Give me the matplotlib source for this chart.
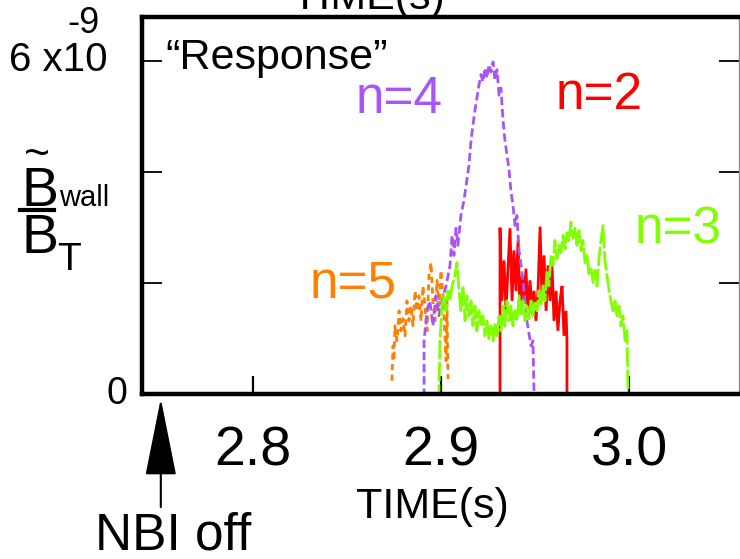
import matplotlib
matplotlib.use("Agg")
import matplotlib.pyplot as plt
from matplotlib.lines import Line2D
from matplotlib import transforms

# ---- measured wall-field response, amplitude in units of 1e-9 (B_wall / B_T) ----
t_n5 = [2.8739, 2.8745, 2.8750, 2.8755, 2.8766, 2.8777, 2.8787, 2.8798,
        2.8809, 2.8819, 2.8830, 2.8840, 2.8851, 2.8862, 2.8872, 2.8883, 2.8894, 2.8904,
        2.8915, 2.8926, 2.8936, 2.8947, 2.8957, 2.8968, 2.8979, 2.8989, 2.9000, 2.9011,
        2.9021, 2.9027, 2.9032, 2.9037]
b_n5 = [0.24, 0.87, 0.60, 1.23, 0.96, 1.50, 1.14, 1.36,
        1.05, 1.68, 1.32, 1.59, 1.23, 1.86, 1.50, 1.77, 1.32, 1.95,
        1.59, 1.14, 2.14, 2.37, 1.68, 1.32, 2.05, 1.59, 2.23, 1.77,
        1.05, 0.60, 1.68, 0.27]

t_n4 = [2.740, 2.8910, 2.8910, 2.8926, 2.8941, 2.8957, 2.8973, 2.8989, 2.9005, 2.9027,
        2.9048, 2.9059, 2.9069, 2.9080, 2.9090, 2.9106, 2.9122, 2.9138, 2.9149, 2.9160,
        2.9170, 2.9181, 2.9191, 2.9202, 2.9213, 2.9223, 2.9234, 2.9245, 2.9255, 2.9266,
        2.9277, 2.9287, 2.9298, 2.9309, 2.9319, 2.9330, 2.9340, 2.9351, 2.9362, 2.9372,
        2.9383, 2.9394, 2.9404, 2.9415, 2.9426, 2.9436, 2.9447, 2.9457, 2.9468, 2.9479,
        2.9489, 2.9495, 3.060]
b_n4 = [0, 0, 0.96, 1.50, 1.68, 1.23, 1.77, 1.41, 1.68, 1.95,
        2.32, 2.86, 2.50, 2.99, 2.68, 3.22, 3.49, 3.86, 4.13, 4.58,
        4.85, 5.12, 5.34, 5.57, 5.76, 5.63, 5.88, 5.70, 5.94, 5.81,
        5.99, 5.67, 5.85, 5.39, 5.52, 4.94, 4.58, 4.31, 4.04, 3.67,
        3.40, 3.04, 3.22, 2.59, 2.32, 2.05, 1.68, 1.32, 1.09, 0.87,
        0.96, 0, 0]

t_n3 = [2.740, 2.8989, 2.8995, 2.9005, 2.9016, 2.9027, 2.9037, 2.9048, 2.9059, 2.9074,
        2.9085, 2.9096, 2.9106, 2.9117, 2.9128, 2.9138, 2.9149, 2.9160, 2.9170, 2.9181,
        2.9191, 2.9202, 2.9213, 2.9223, 2.9234, 2.9245, 2.9255, 2.9266, 2.9277, 2.9287,
        2.9298, 2.9309, 2.9319, 2.9330, 2.9340, 2.9351, 2.9362, 2.9372, 2.9383, 2.9394,
        2.9404, 2.9415, 2.9426, 2.9436, 2.9447, 2.9457, 2.9468, 2.9479, 2.9489, 2.9500,
        2.9511, 2.9521, 2.9532, 2.9543, 2.9553, 2.9564, 2.9574, 2.9585, 2.9596, 2.9606,
        2.9617, 2.9628, 2.9638, 2.9649, 2.9660, 2.9670, 2.9681, 2.9691, 2.9702, 2.9713,
        2.9723, 2.9734, 2.9745, 2.9755, 2.9766, 2.9777, 2.9787, 2.9798, 2.9809, 2.9819,
        2.9830, 2.9840, 2.9851, 2.9862, 2.9872, 2.9883, 2.9894, 2.9904, 2.9915, 2.9926,
        2.9936, 2.9947, 2.9957, 2.9968, 2.9979, 2.9989, 2.9995, 3.060]
b_n3 = [0, 0, 0.96, 1.59, 1.77, 1.50, 1.86, 1.68, 1.95, 2.14,
        2.37, 1.86, 1.50, 1.95, 1.32, 1.77, 1.41, 1.68, 1.23, 1.59,
        1.14, 1.50, 1.23, 1.41, 1.05, 1.32, 1.00, 1.23, 0.96, 1.29,
        1.05, 1.41, 1.14, 1.59, 1.23, 1.68, 1.32, 1.59, 1.23, 1.50,
        1.32, 1.77, 1.41, 1.68, 1.32, 1.59, 1.36, 1.68, 1.41, 1.68,
        1.50, 1.86, 1.59, 1.95, 1.68, 2.23, 1.95, 2.50, 2.32, 2.77,
        2.44, 2.68, 2.55, 2.86, 2.62, 2.91, 2.77, 3.10, 2.81, 2.99,
        2.68, 2.95, 2.59, 2.77, 2.37, 2.50, 2.14, 2.26, 2.01, 2.23,
        1.95, 2.44, 2.77, 3.04, 2.41, 2.14, 1.86, 1.68, 1.50, 1.68,
        1.41, 1.59, 1.23, 1.41, 0.96, 1.14, 0, 0]

t_n2 = [2.740, 2.9314, 2.9314, 2.9324, 2.9335, 2.9346, 2.9356, 2.9367, 2.9378, 2.9388,
        2.9399, 2.9410, 2.9420, 2.9431, 2.9441, 2.9452, 2.9463, 2.9473, 2.9484, 2.9495,
        2.9505, 2.9516, 2.9527, 2.9537, 2.9548, 2.9559, 2.9569, 2.9580, 2.9590, 2.9601,
        2.9612, 2.9622, 2.9633, 2.9644, 2.9654, 2.9665, 2.9670, 2.9670, 3.060]
b_n2 = [0, 0, 3.00, 1.68, 2.41, 1.50, 2.23, 2.99, 1.68, 2.59,
        1.86, 2.77, 1.50, 2.14, 1.68, 2.26, 1.41, 2.05, 1.59, 1.86,
        1.32, 1.86, 3.02, 1.77, 2.50, 1.50, 2.32, 1.68, 2.37, 1.32,
        1.86, 1.14, 1.68, 1.95, 1.05, 1.50, 0.96, 0, 0]

x_ticks = [2.8, 2.9, 3.0]
x_tick_labels = ["2.8", "2.9", "3.0"]
y_ticks = [0, 2, 4, 6]

modes = ["n=2", "n=5", "n=4", "n=3"]
colors = {"n=2": "#ff0000", "n=5": "#ff8000", "n=4": "#a855f7", "n=3": "#80ff00"}

FONT = ["Liberation Sans", "DejaVu Sans"]

fig = plt.figure(figsize=(7.4, 5.59), dpi=100)
W, H = 740.0, 559.0
ax = fig.add_axes([142 / W, 1 - 394 / H, (739 - 142) / W, (394 - 17) / H])
ax.set_xlim(2.741, 3.0585)
ax.set_ylim(0, 6.8)

series = {
    "n=2": (t_n2, b_n2, "-", None, 2),
    "n=5": (t_n5, b_n5, "--", (2.2, 1.6), 3),
    "n=4": (t_n4, b_n4, "--", (3.0, 1.4), 4),
    "n=3": (t_n3, b_n3, "--", (7.0, 1.0), 5),
}
for name in modes:
    t, b, ls, dashes, z = series[name]
    line, = ax.plot(t, b, color=colors[name], lw=2.0, ls=ls, zorder=z,
                    solid_joinstyle="miter", dash_capstyle="butt")
    if dashes is not None:
        line.set_dashes(dashes)

# frame
for side in ("left", "bottom", "top"):
    ax.spines[side].set_linewidth(3.2)
    ax.spines[side].set_color("black")
    ax.spines[side].set_zorder(10)
ax.spines["right"].set_linewidth(1.0)
ax.spines["right"].set_color("#8a8a8a")

ax.set_yticks(y_ticks)
ax.set_yticklabels([])
ax.tick_params(axis="y", which="major", direction="in", length=14.5, width=1.3,
               left=True, right=True, labelleft=False)
ax.set_xticks(x_ticks)
ax.set_xticklabels(x_tick_labels, family=FONT, fontsize=40)
ax.tick_params(axis="x", which="major", direction="in", length=13, width=1.6,
               pad=23, top=False)

# y-axis annotation text
yt = transforms.blended_transform_factory(ax.transAxes, ax.transData)
ax.text(-0.025, 0.0, "0", transform=yt, ha="right", va="center",
        fontsize=27, family=FONT)
ax.text(-0.057, 6.03, "6 x10", transform=yt, ha="right", va="center",
        fontsize=29, family=FONT)
fig.text(100 / W, 1 - 33 / H, "-9", ha="right", va="baseline",
         fontsize=26, family=FONT)

ax.set_xlabel("TIME(s)", family=FONT, fontsize=31, va="baseline")
ax.xaxis.set_label_coords((432 - 142) / 597, -(518 - 394) / 377)

# mode labels
ax.text(165 / W, 1 - 69 / H, "\u201cResponse\u201d", transform=fig.transFigure,
        ha="left", va="baseline", fontsize=31, family=FONT)
label_pos = {"n=4": (356, 113), "n=2": (556, 109), "n=3": (635, 244), "n=5": (310, 298)}
for name, (px, py) in label_pos.items():
    fig.text(px / W, 1 - py / H, name, ha="left", va="baseline",
             fontsize=37, family=FONT, color=colors[name])

# B_wall / B_T label
fig.text(22 / W, 1 - 206 / H, "B", ha="left", va="baseline", fontsize=40, family=FONT)
fig.text(24 / W, 1 - 167 / H, "~", ha="left", va="baseline", fontsize=32, family=FONT)
fig.text(59 / W, 1 - 206 / H, "wall", ha="left", va="baseline", fontsize=21, family=FONT)
fig.add_artist(Line2D([20 / W, 54 / W], [1 - 210 / H, 1 - 210 / H],
                      transform=fig.transFigure, color="black", lw=3.0))
fig.text(22 / W, 1 - 253 / H, "B", ha="left", va="baseline", fontsize=40, family=FONT)
fig.text(57 / W, 1 - 270 / H, "T", ha="left", va="baseline", fontsize=28, family=FONT)

# NBI turn-off marker below the time axis
ax.annotate("", xy=(2.751, -0.012), xycoords=("data", "axes fraction"),
            xytext=(2.751, -0.30), textcoords=("data", "axes fraction"),
            arrowprops=dict(arrowstyle="-|>,head_length=0.5,head_width=0.1",
                            mutation_scale=100, color="black", lw=1.5,
                            shrinkA=0, shrinkB=0),
            annotation_clip=False)
fig.text(173 / W, 1 - 549 / H, "NBI off", ha="center", va="baseline",
         fontsize=37, family=FONT)

# heading of the panel above, cut by the figure edge
fig.text(368 / W, 1 - 9 / H, "TIME(s)", ha="center", va="baseline",
         fontsize=31, family=FONT)

fig.savefig("out.png", dpi=100)
